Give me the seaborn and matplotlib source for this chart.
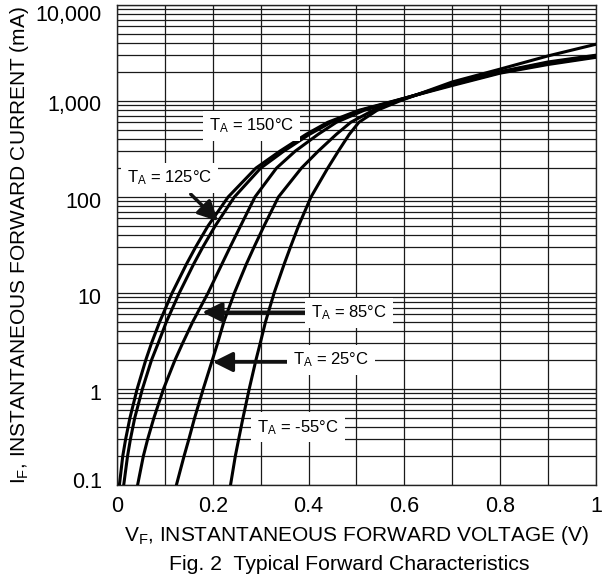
import numpy as np
import pandas as pd
import matplotlib
matplotlib.use("Agg")
import matplotlib.pyplot as plt
import matplotlib.transforms as mtransforms
import seaborn as sns

# forward current levels (mA) shared by the lower part of every curve
I_LOW = [0.1, 0.2, 0.3, 0.5, 1, 2, 3, 5, 10, 20, 30, 50, 100, 200, 300, 450, 600, 800, 1000]
# forward voltage (V) read at those currents, one list per temperature
V_150 = [0.005, 0.012, 0.018, 0.027, 0.042, 0.060, 0.072, 0.089, 0.115, 0.145, 0.164, 0.190,
         0.232, 0.290, 0.340, 0.395, 0.440, 0.505, 0.578]
V_125 = [0.014, 0.022, 0.028, 0.037, 0.053, 0.072, 0.086, 0.103, 0.130, 0.160, 0.179, 0.205,
         0.245, 0.300, 0.348, 0.402, 0.447, 0.510, 0.580]
V_85 = [0.043, 0.055, 0.064, 0.077, 0.097, 0.121, 0.137, 0.158, 0.190, 0.219, 0.236, 0.258,
        0.288, 0.333, 0.372, 0.420, 0.458, 0.516, 0.582]
V_25 = [0.124, 0.140, 0.150, 0.162, 0.180, 0.199, 0.210, 0.223, 0.245, 0.270, 0.286, 0.307,
        0.337, 0.385, 0.420, 0.458, 0.488, 0.535, 0.585]
V_M55 = [0.237, 0.247, 0.254, 0.263, 0.276, 0.290, 0.299, 0.310, 0.328, 0.349, 0.362, 0.379,
         0.405, 0.440, 0.462, 0.485, 0.505, 0.543, 0.590]

# upper part: current (mA) read at fixed voltages
V_HIGH = [0.7, 0.8, 0.9, 1.0]
I_150 = [1450, 1950, 2400, 2850]
I_125 = [1480, 1980, 2450, 2900]
I_85 = [1500, 2000, 2500, 2950]
I_25 = [1520, 2020, 2550, 3000]
I_M55 = [1580, 2150, 2950, 3900]

TEMPS = ["150", "125", "85", "25", "-55"]

rows = []
for t, v_low, i_high in zip(TEMPS, [V_150, V_125, V_85, V_25, V_M55],
                            [I_150, I_125, I_85, I_25, I_M55]):
    for v, i in zip(v_low + V_HIGH, I_LOW + i_high):
        rows.append({"temp": t, "vf": v, "if": i})
df = pd.DataFrame(rows)

sns.set_style("white")
plt.rcParams["font.family"] = ["Liberation Sans", "DejaVu Sans"]
plt.rcParams["mathtext.default"] = "regular"

fig = plt.figure(figsize=(6.05, 5.8), dpi=100)
ax = fig.add_axes([0.1934, 0.1638, 0.7917, 0.8276])

sns.lineplot(data=df, x="vf", y="if", hue="temp",
             palette=["black"] * 5, legend=False, lw=2.2, ax=ax,
             estimator=None, sort=True, zorder=3)

ax.set_yscale("log")
ax.set_xlim(0, 1)
ax.set_ylim(0.1, 10000)

ax.set_xticks([0, 0.2, 0.4, 0.6, 0.8, 1.0])
ax.set_xticklabels(["0", "0.2", "0.4", "0.6", "0.8", "1"])
ax.set_xticks(np.arange(0.1, 1.0, 0.2), minor=True)
ax.set_yticks([0.1, 1, 10, 100, 1000, 10000])
ax.set_yticklabels(["0.1", "1", "10", "100", "1,000", "10,000"])
ax.yaxis.set_minor_locator(matplotlib.ticker.LogLocator(base=10, subs=np.arange(2, 10)))
ax.yaxis.set_minor_formatter(matplotlib.ticker.NullFormatter())

ax.grid(True, which="both", color="#1a1a1a", lw=0.9)
ax.set_axisbelow(True)
ax.tick_params(axis="both", which="both", length=0, labelsize=15.5, colors="black")
ax.tick_params(axis="y", pad=11)
ax.tick_params(axis="x", pad=8)
for s in ax.spines.values():
    s.set_color("#222222")
    s.set_linewidth(1.0)

# nudge y tick labels like the original (ends pulled inward)
shifts = [5, -3, -3, -3, -2, -8]
for lab, dy in zip(ax.get_yticklabels(), shifts):
    lab.set_transform(lab.get_transform() + mtransforms.ScaledTranslation(0, dy / 100, fig.dpi_scale_trans))

ax.set_xlabel("V$_F$, INSTANTANEOUS FORWARD VOLTAGE (V)", fontsize=15, labelpad=5, color="black")
ax.set_ylabel("I$_F$, INSTANTANEOUS FORWARD CURRENT (mA)", fontsize=15, labelpad=3, color="black")
fig.text(0.578, 0.017, "Fig. 2  Typical Forward Characteristics", ha="center", fontsize=15.3, color="black")

box = dict(boxstyle="square,pad=0.35", fc="white", ec="none")
labels = [
    ("150", 0.280, 550),
    ("125", 0.109, 158),
    ("85", 0.484, 6.2),
    ("25", 0.447, 2.0),
    ("-55", 0.378, 0.40),
]
for t, x, y in labels:
    ax.text(x, y, "T$_{A}$ = " + t + "°C", ha="center", va="center",
            fontsize=12, bbox=box, zorder=5, color="black")

arrows = [
    ((0.211, 56), (0.154, 107)),
    ((0.178, 6.3), (0.395, 6.3)),
    ((0.200, 1.91), (0.359, 1.91)),
]
for tip, start in arrows:
    ax.annotate("", xy=tip, xytext=start,
                arrowprops=dict(arrowstyle="-|>,head_length=0.6,head_width=0.3", lw=2.5,
                                color="#111111", mutation_scale=20, shrinkA=0, shrinkB=0),
                zorder=4)

fig.savefig("out.png", dpi=100)
